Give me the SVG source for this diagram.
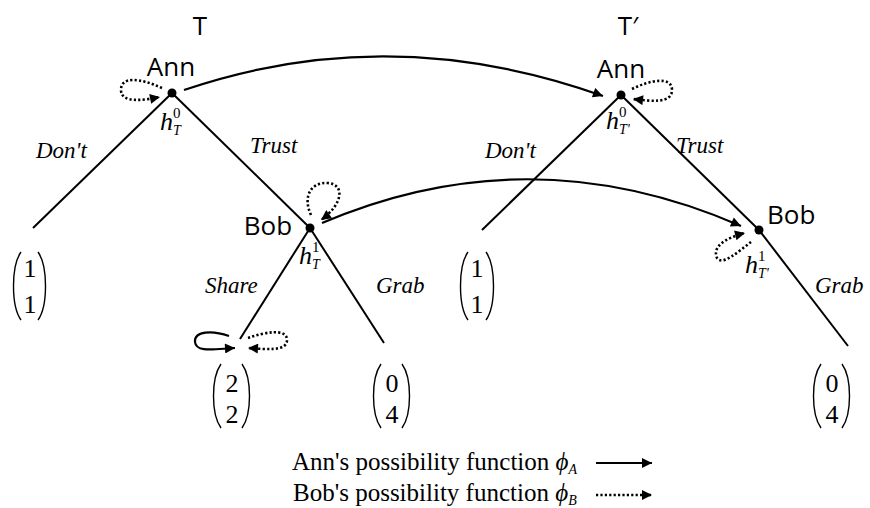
<svg xmlns="http://www.w3.org/2000/svg" width="870" height="508" viewBox="0 0 870 508">
  <style>
    .edge { stroke: #000; stroke-width: 2; fill: none; }
    .solid { stroke: #000; stroke-width: 2.2; fill: none; }
    .dot { stroke: #000; stroke-width: 2.6; fill: none; stroke-dasharray: 2.2 2.2; }
    .paren { stroke: #000; stroke-width: 1.4; fill: none; }
    .who { font-family: "Open Sans", "DejaVu Sans", sans-serif; font-size: 26px; fill: #000; }
    .act { font-family: "Liberation Serif", "Times New Roman", serif; font-style: italic; font-size: 23px; fill: #000; }
    .num { font-family: "Liberation Serif", "Times New Roman", serif; font-size: 26px; fill: #000; text-anchor: middle; }
    .h { font-family: "Liberation Serif", "Times New Roman", serif; font-style: italic; font-size: 26px; fill: #000; }
    .sup { font-family: "Liberation Serif", "Times New Roman", serif; font-size: 15px; fill: #000; }
    .sub { font-family: "Liberation Serif", "Times New Roman", serif; font-style: italic; font-size: 14px; fill: #000; }
    .leg { font-family: "Liberation Serif", "Times New Roman", serif; font-size: 25px; fill: #000; }
  </style>
  <defs>
    <marker id="big" viewBox="0 0 10 10" refX="10" refY="5" markerWidth="13" markerHeight="10" markerUnits="userSpaceOnUse" orient="auto">
      <path d="M0,0 L10,5 L0,10 z" fill="#000"/>
    </marker>
  </defs>

  <!-- tree titles -->
  <text class="who" x="200" y="35" text-anchor="middle">T</text>
  <text class="who" x="628" y="35" text-anchor="middle">T′</text>

  <!-- game tree edges -->
  <g id="edges">
    <line class="edge" x1="172" y1="93" x2="33" y2="228"/>
    <line class="edge" x1="172" y1="93" x2="310" y2="228"/>
    <line class="edge" x1="310" y1="228" x2="240" y2="339"/>
    <line class="edge" x1="310" y1="228" x2="384" y2="343"/>
    <line class="edge" x1="621" y1="95" x2="482" y2="230"/>
    <line class="edge" x1="621" y1="95" x2="759" y2="230"/>
    <line class="edge" x1="759" y1="230" x2="848" y2="346"/>
  </g>

  <!-- action labels -->
  <g id="actions">
    <text class="act" x="36" y="158">Don't</text>
    <text class="act" x="250" y="153">Trust</text>
    <text class="act" x="205" y="293">Share</text>
    <text class="act" x="376" y="293">Grab</text>
    <text class="act" x="485" y="158">Don't</text>
    <text class="act" x="676" y="153">Trust</text>
    <text class="act" x="815" y="293">Grab</text>
  </g>

  <!-- decision nodes -->
  <g id="ann-T">
    <circle cx="172" cy="93" r="4.5" fill="#000"/>
    <text class="who" x="171" y="76" text-anchor="middle">Ann</text>
    <text class="h" x="160" y="130">h</text>
    <text class="sup" x="173" y="118">0</text>
    <text class="sub" x="173" y="135">T</text>
  </g>
  <g id="bob-T">
    <circle cx="310" cy="228" r="4.5" fill="#000"/>
    <text class="who" x="268" y="235" text-anchor="middle">Bob</text>
    <text class="h" x="299" y="264">h</text>
    <text class="sup" x="312" y="252">1</text>
    <text class="sub" x="312" y="269">T</text>
  </g>
  <g id="ann-T2">
    <circle cx="621" cy="95" r="4.5" fill="#000"/>
    <text class="who" x="621" y="78" text-anchor="middle">Ann</text>
    <text class="h" x="606" y="129">h</text>
    <text class="sup" x="619" y="117">0</text>
    <text class="sub" x="619" y="134">T'</text>
  </g>
  <g id="bob-T2">
    <circle cx="759" cy="230" r="4.5" fill="#000"/>
    <text class="who" x="767" y="224">Bob</text>
    <text class="h" x="745" y="273">h</text>
    <text class="sup" x="758" y="261">1</text>
    <text class="sub" x="758" y="278">T'</text>
  </g>

  <!-- payoff vectors -->
  <g id="pay-dont-T">
    <path class="paren" d="M21,252 C11,266 11,306 21,320"/>
    <path class="paren" d="M38,252 C48,266 48,306 38,320"/>
    <text class="num" x="30" y="277">1</text>
    <text class="num" x="30" y="313">1</text>
  </g>
  <g id="pay-share">
    <path class="paren" d="M221,364 C211,378 211,414 221,428"/>
    <path class="paren" d="M242,364 C252,378 252,414 242,428"/>
    <text class="num" x="232" y="392">2</text>
    <text class="num" x="232" y="423">2</text>
  </g>
  <g id="pay-grab-T">
    <path class="paren" d="M381,364 C371,378 371,414 381,428"/>
    <path class="paren" d="M402,364 C412,378 412,414 402,428"/>
    <text class="num" x="392" y="392">0</text>
    <text class="num" x="392" y="423">4</text>
  </g>
  <g id="pay-dont-T2">
    <path class="paren" d="M468,252 C458,266 458,306 468,320"/>
    <path class="paren" d="M486,252 C496,266 496,306 486,320"/>
    <text class="num" x="477" y="277">1</text>
    <text class="num" x="477" y="313">1</text>
  </g>
  <g id="pay-grab-T2">
    <path class="paren" d="M821,364 C811,378 811,414 821,428"/>
    <path class="paren" d="M842,364 C852,378 852,414 842,428"/>
    <text class="num" x="832" y="392">0</text>
    <text class="num" x="832" y="423">4</text>
  </g>

  <!-- possibility functions -->
  <g id="connectors">
    <path class="solid" d="M184,90 Q390,20 603,96" marker-end="url(#big)"/>
    <path class="solid" d="M322,223 Q530,134 741,226" marker-end="url(#big)"/>
    <path class="dot" d="M162,88 C140,78 121,76 121,90 C121,104 145,100 160,97" marker-end="url(#big)"/>
    <path class="dot" d="M311,215 C302,195 312,182 328,183 C346,185 342,205 321,220" marker-end="url(#big)"/>
    <path class="dot" d="M632,89 C650,80 672,76 672,90 C672,104 650,101 633,99" marker-end="url(#big)"/>
    <path class="dot" d="M751,242 C738,252 722,266 717,258 C712,247 725,238 745,233" marker-end="url(#big)"/>
    <path class="solid" d="M229,336 C212,330 194,331 195,342 C196,353 215,349 235,348" marker-end="url(#big)"/>
    <path class="dot" d="M248,338 C265,332 287,328 287,340 C287,352 265,349 248,348" marker-end="url(#big)"/>
  </g>

  <!-- legend -->
  <g id="legend">
    <text class="leg" x="292" y="470">Ann's possibility function <tspan font-style="italic">ϕ</tspan><tspan font-size="14" font-style="italic" dy="4">A</tspan></text>
    <text class="leg" x="293" y="501">Bob's possibility function <tspan font-style="italic">ϕ</tspan><tspan font-size="14" font-style="italic" dy="4">B</tspan></text>
    <line class="solid" x1="596" y1="463" x2="652" y2="463" marker-end="url(#big)"/>
    <line class="dot" x1="596" y1="495" x2="652" y2="495" marker-end="url(#big)"/>
  </g>
</svg>
